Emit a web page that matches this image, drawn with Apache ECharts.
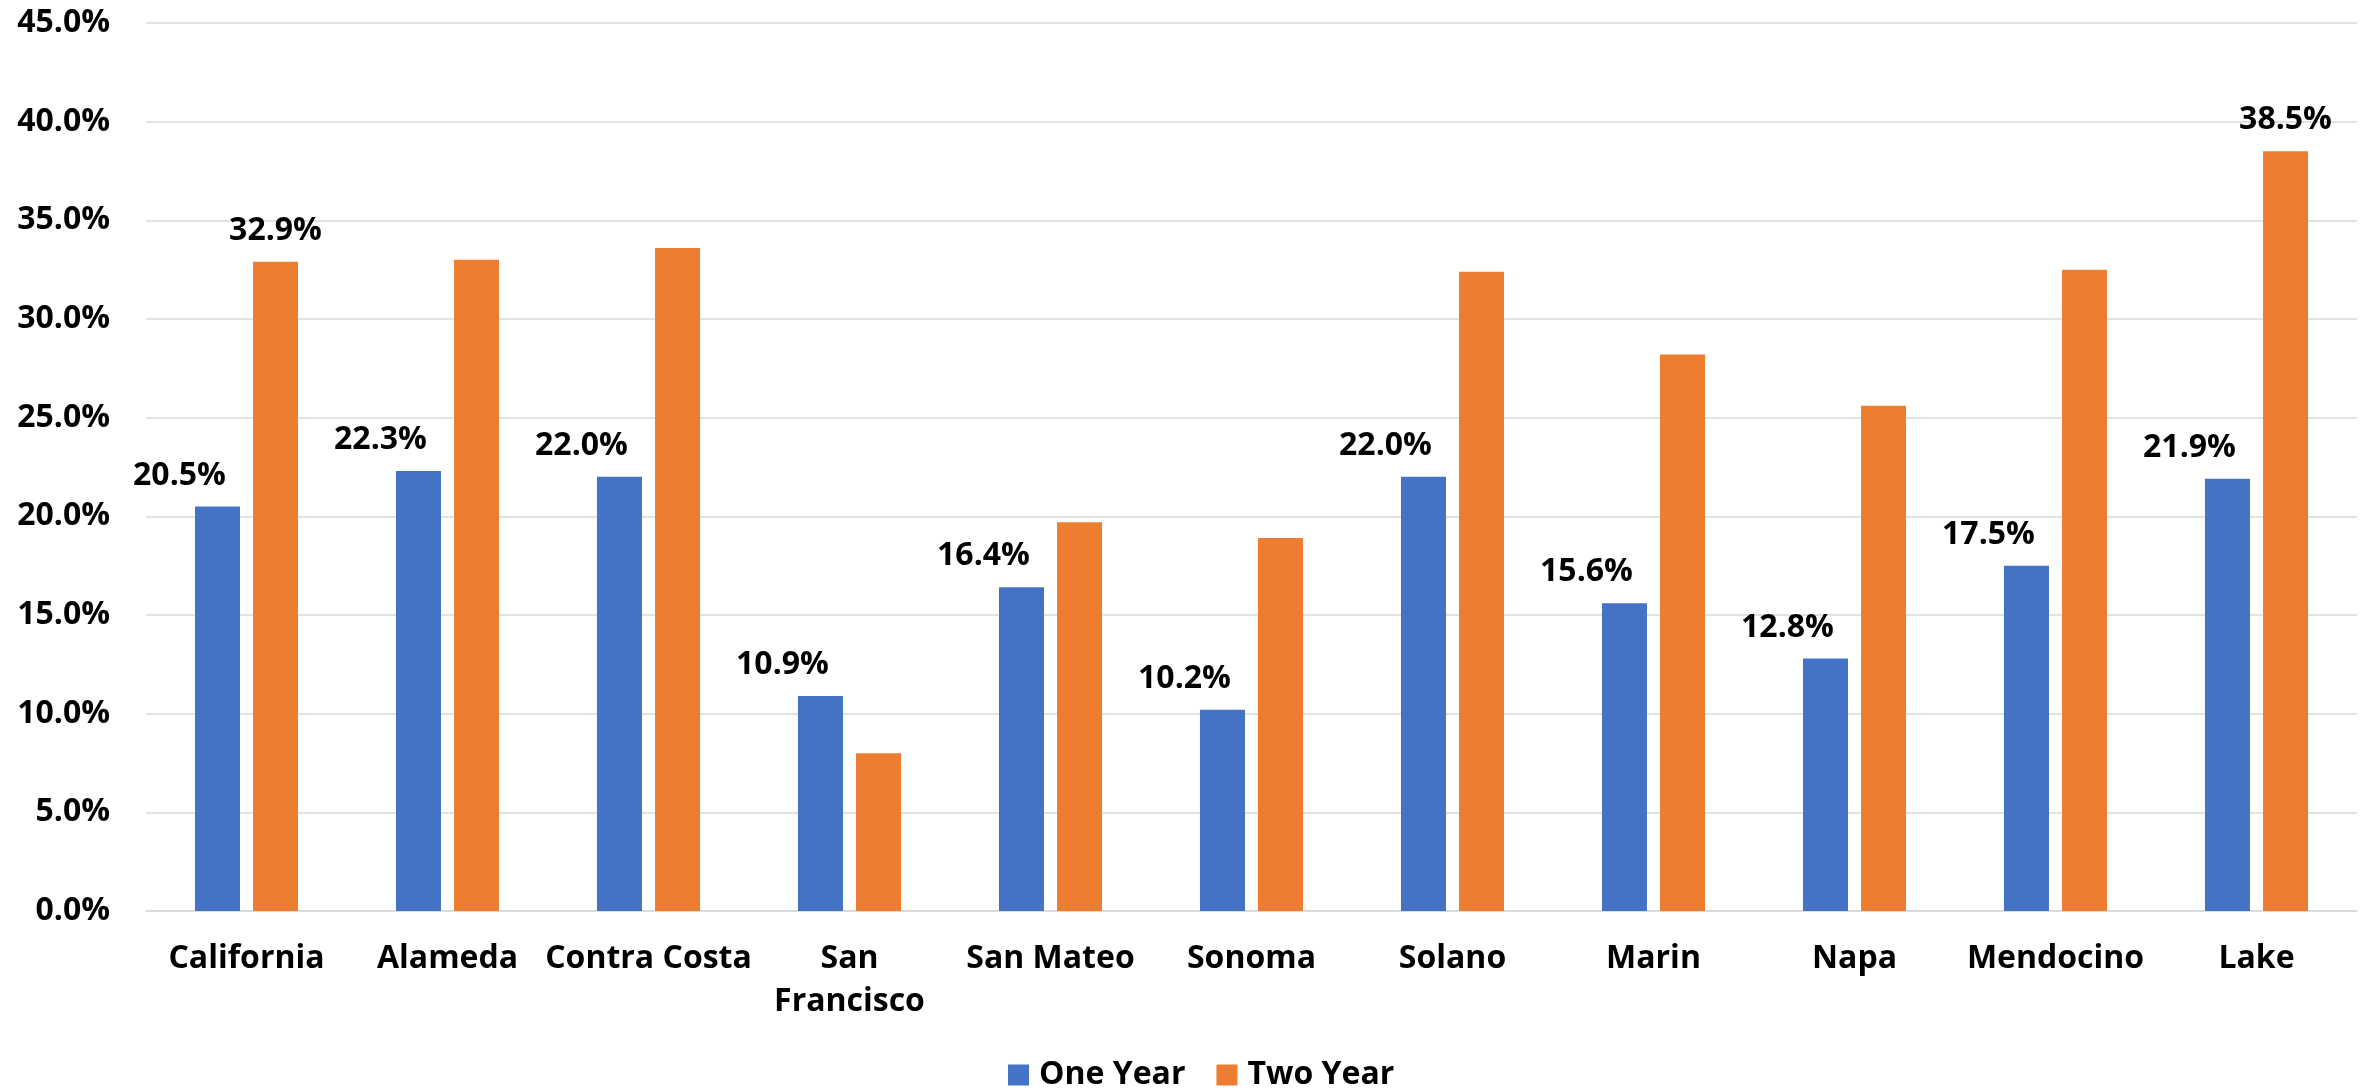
<!DOCTYPE html>
<html>
<head>
<meta charset="utf-8">
<title>One Year and Two Year Rates by County</title>
<script src="https://cdn.jsdelivr.net/npm/echarts@6/dist/echarts.min.js"></script>
<style>
  html, body { margin: 0; padding: 0; background: #ffffff; }
  #chart { width: 2369px; height: 1090px; }
</style>
</head>
<body>
<div id="chart"></div>
<script>
// Regions along the category axis
const counties = ['California', 'Alameda', 'Contra Costa', 'San\nFrancisco', 'San Mateo',
  'Sonoma', 'Solano', 'Marin', 'Napa', 'Mendocino', 'Lake'];

// Rates in percent
const oneYear = [20.5, 22.3, 22.0, 10.9, 16.4, 10.2, 22.0, 15.6, 12.8, 17.5, 21.9];
const twoYear = [32.9, 33.0, 33.6, 8.0, 19.7, 18.9, 32.4, 28.2, 25.6, 32.5, 38.5];

// Two Year bars that carry a value label
const twoYearLabeled = ['California', 'Lake'];

// Value axis ticks
const yMin = 0;
const yMax = 45;
const yStep = 5;

const FONT = '"Open Sans", "Noto Sans", sans-serif';
const pct = v => Number(v).toFixed(1) + '%';

const labelStyle = {
  fontFamily: FONT,
  fontWeight: 'bold',
  fontSize: 32,
  color: '#000000'
};

const twoYearData = twoYear.map((v, i) => ({
  value: v,
  label: { show: twoYearLabeled.includes(counties[i]) }
}));

const chart = echarts.init(document.getElementById('chart'), null, { renderer: 'canvas' });

chart.setOption({
  backgroundColor: '#ffffff',
  animation: false,
  grid: { left: 146, right: 12, top: 23, bottom: 179, containLabel: false },
  legend: {
    data: ['One Year', 'Two Year'],
    left: 1003,
    top: 1054,
    icon: 'rect',
    itemWidth: 21,
    itemHeight: 21,
    itemGap: 31,
    textStyle: Object.assign({}, labelStyle, { padding: [0, 0, 0, 5] })
  },
  xAxis: {
    type: 'category',
    data: counties,
    axisLine: { show: true, lineStyle: { color: '#d9d9d9', width: 1.5 } },
    axisTick: { show: false },
    axisLabel: Object.assign({}, labelStyle, {
      margin: 26,
      lineHeight: 43,
      interval: 0,
      verticalAlign: 'top'
    })
  },
  yAxis: {
    type: 'value',
    min: yMin,
    max: yMax,
    interval: yStep,
    axisLine: { show: false },
    axisTick: { show: false },
    splitLine: { lineStyle: { color: '#d9d9d9', width: 1.5 } },
    axisLabel: Object.assign({}, labelStyle, {
      margin: 36,
      formatter: v => pct(v)
    })
  },
  series: [
    {
      name: 'One Year',
      type: 'bar',
      data: oneYear,
      barWidth: 45,
      barGap: '29%',
      itemStyle: { color: '#4472C4' },
      label: Object.assign({}, labelStyle, {
        show: true,
        position: 'top',
        distance: 15,
        offset: [-38, 0],
        formatter: p => pct(p.value)
      })
    },
    {
      name: 'Two Year',
      type: 'bar',
      data: twoYearData,
      barWidth: 45,
      barGap: '29%',
      itemStyle: { color: '#ED7D31' },
      label: Object.assign({}, labelStyle, {
        position: 'top',
        distance: 15,
        formatter: p => pct(p.value)
      })
    }
  ]
});
</script>
</body>
</html>
